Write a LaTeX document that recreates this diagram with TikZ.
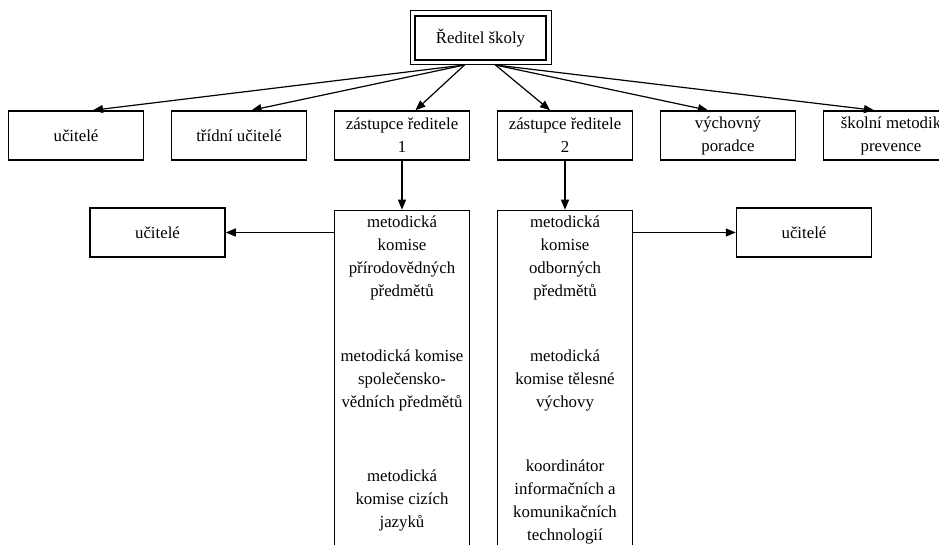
\documentclass[tikz,border=0pt]{standalone}
\usepackage{fontspec}
\setmainfont{Liberation Serif}
\usetikzlibrary{arrows.meta,positioning}

\tikzset{
  box/.style={draw, line width=0.75pt, minimum width=67.5pt, minimum height=24.5pt, inner sep=1pt, align=center},
  tallbox/.style={draw, line width=0.75pt, minimum width=67.5pt, minimum height=178pt},
  txt/.style={align=center, inner sep=0pt},
  arr/.style={line width=0.6pt, -{Triangle[length=5pt,width=4pt]}},
}

\begin{document}
\begin{tikzpicture}[x=0.5pt, y=-0.5pt, font=\fontsize{8.4}{11.5}\selectfont]
            \useasboundingbox (0,0) rectangle (939,545);
            \clip (0,0) rectangle (939,545);
            % top
            \node[draw, line width=1pt, minimum width=65.5pt, minimum height=22pt] (reditel) at (480.5,38) {Ředitel školy};
            \draw[line width=0.5pt] ([shift={(-2pt,2pt)}]reditel.north west) rectangle ([shift={(2pt,-2pt)}]reditel.south east);
            \coordinate (rl) at ([shift={(-8pt,-2pt)}]reditel.south);
            \coordinate (rr) at ([shift={(7.5pt,-2pt)}]reditel.south);
            % second row
            \node[box] (ucitele) at (76,135.5) {učitelé};
            \node[box, right=13.25pt of ucitele] (tridni) {třídní učitelé};
            \node[box, right=13.25pt of tridni] (zast1) {zástupce ředitele\\1};
            \node[box, right=13.25pt of zast1] (zast2) {zástupce ředitele\\2};
            \node[box, right=13.25pt of zast2] (vychovny) {výchovný\\poradce};
            \node[box, right=13.25pt of vychovny] (prevence) {školní metodik\\prevence};
            % commissions
            \node[tallbox, below=24.5pt of zast1] (kom1) {};
            \node[tallbox, below=24.5pt of zast2] (kom2) {};
            \node[txt] (kp) at ([yshift=-24.25pt]kom1.north) {metodická\\komise\\přírodovědných\\předmětů};
            \node[txt] (ks) at ([yshift=-85.5pt]kom1.north) {metodická komise\\společensko-\\vědních předmětů};
            \node[txt] (kj) at ([yshift=-145.5pt]kom1.north) {metodická\\komise cizích\\jazyků};
            \node[txt] (ko) at ([yshift=-24.25pt]kom2.north) {metodická\\komise\\odborných\\předmětů};
            \node[txt] (kt) at ([yshift=-85.5pt]kom2.north) {metodická\\komise tělesné\\výchovy};
            \node[txt] (kk) at ([yshift=-146.25pt]kom2.north) {koordinátor\\informačních a\\komunikačních\\technologií};
            \node[box] (ucitL) at (157.5,232.5) {učitelé};
            \node[box] (ucitR) at (804,232.5) {učitelé};
            % arrows
            \draw[arr] (rl) -- ([xshift=8.5pt]ucitele.north);
            \draw[arr] (rl) -- ([xshift=6.25pt]tridni.north);
            \draw[arr] (rl) -- ([xshift=6.75pt]zast1.north);
            \draw[arr] (rr) -- ([xshift=-7.5pt]zast2.north);
            \draw[arr] (rr) -- ([xshift=-10pt]vychovny.north);
            \draw[arr] (rr) -- ([xshift=-8.5pt]prevence.north);
            \draw[arr] (zast1.south) -- (kom1.north);
            \draw[arr] (zast2.south) -- (zast2.south |- kom2.north);
            \draw[arr] (kom1.west |- ucitL) -- (ucitL.east);
            \draw[arr] (kom2.east |- ucitR) -- (ucitR.west);
\end{tikzpicture}
\end{document}
